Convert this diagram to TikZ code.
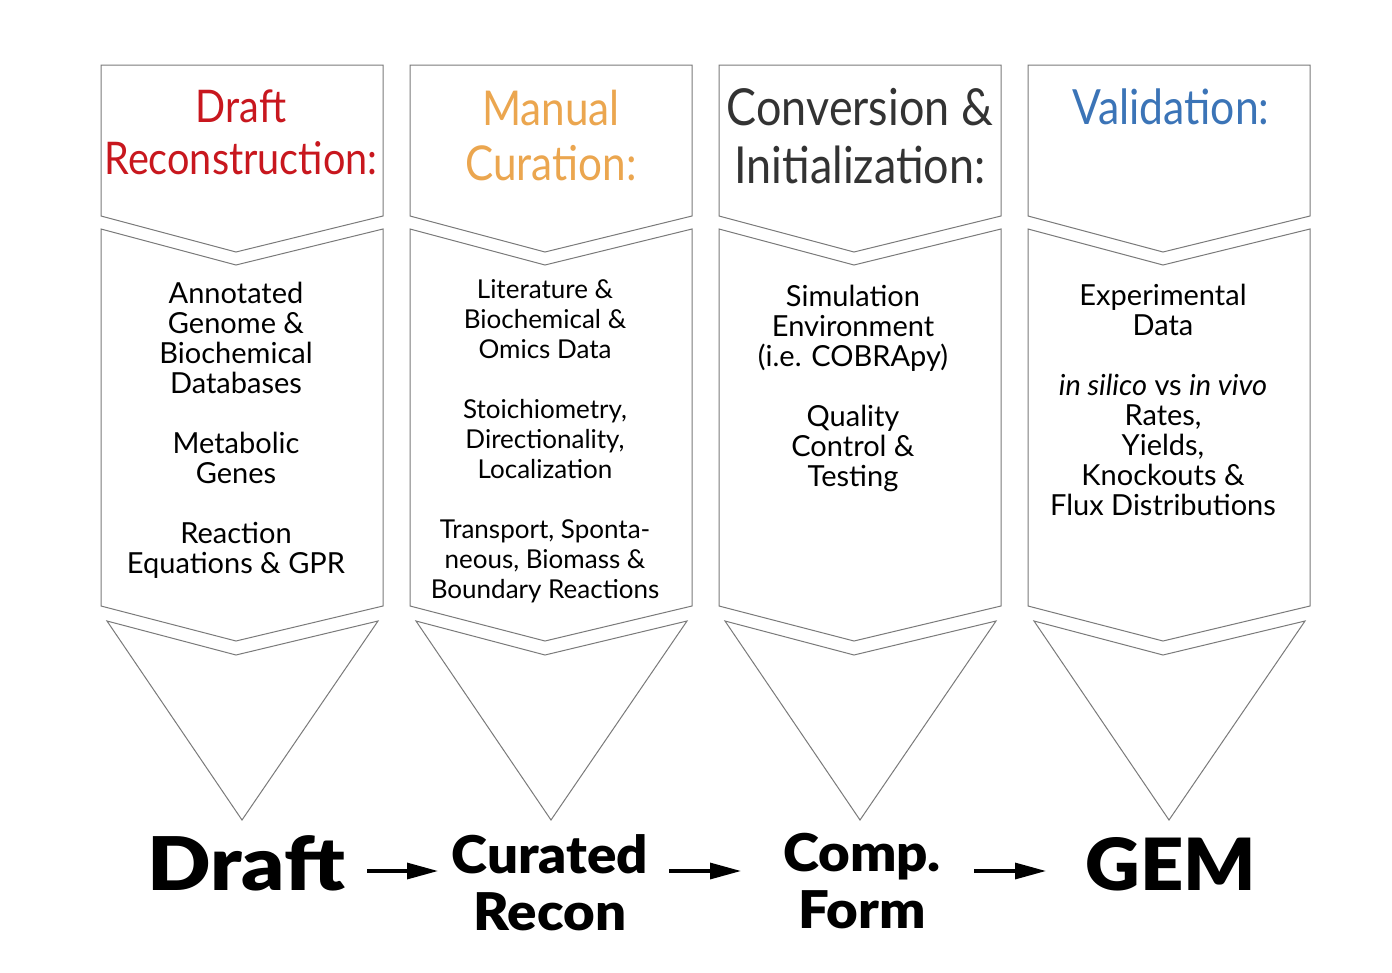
\documentclass[tikz,border=0pt]{standalone}
\usepackage{fontspec}
\setmainfont{Lato}
\newfontfamily\gill[FakeStretch=0.88]{Lato}
\newfontfamily\gillbody{Lato}
\IfFontExistsTF{Lato Black}{%
  \newfontfamily\heavyfam[FakeStretch=1.05]{Lato Black}%
  \newfontfamily\heavywide[FakeStretch=1.13]{Lato Black}}{%
  \newfontfamily\heavyfam[FakeStretch=1.05]{Lato Bold}%
  \newfontfamily\heavywide[FakeStretch=1.13]{Lato Bold}}
\usetikzlibrary{arrows.meta}
\definecolor{draftred}{HTML}{C8171E}
\definecolor{curorange}{HTML}{EBA64F}
\definecolor{convgray}{HTML}{333333}
\definecolor{valblue}{HTML}{3B74B7}
\definecolor{linegray}{HTML}{7A7A7A}
\tikzset{
  outline/.style={draw=linegray, line width=1pt, line join=miter},
  titletext/.style={anchor=base, align=center, inner sep=0pt, font=\gill\fontsize{46}{52}\selectfont},
  bodytext/.style={anchor=base, align=center, inner sep=0pt, font=\gillbody\fontsize{29}{30}\selectfont},
  smallbody/.style={anchor=base, align=center, inner sep=0pt, font=\gillbody\fontsize{26}{30}\selectfont},
  stagetext/.style={anchor=base, align=center, inner sep=0pt, font=\heavyfam\fontsize{52}{57}\selectfont},
  bigstage/.style={anchor=base, align=center, inner sep=0pt, font=\heavyfam\fontsize{74}{80}\selectfont},
  flow/.style={line width=3.2pt, -{Triangle[length=31pt,width=16pt]}}
}
\begin{document}
\begin{tikzpicture}[x=1pt,y=-1pt]
\fill[white] (0,0) rectangle (1392,972);
\useasboundingbox (0,0) rectangle (1392,972);
\foreach \k in {0,1,2,3}{
  \pgfmathsetmacro\L{101+309*\k}
  \pgfmathsetmacro\R{383+309*\k}
  \pgfmathsetmacro\C{242+309*\k}
  \pgfmathsetmacro\P{236+309*\k}
  \draw[outline] (\L,65) -- (\R,65) -- (\R,216) -- (\P,252) -- (\L,216) -- cycle;
  \draw[outline] (\L,229) -- (\P,265) -- (\R,229) -- (\R,606) -- (\P,641) -- (\L,606) -- cycle;
  \draw[outline] (\L+6,621) -- (\P,655) -- (\R-5,621) -- (\C,820) -- cycle;
}
% titles
\node[titletext, text=draftred, font=\gill\fontsize{45}{52}\selectfont] (t1) at (241,174) {Draft\\Reconstruction:};
\node[titletext, text=curorange, font=\gill\fontsize{48}{55}\selectfont] (t2) at (551,180) {Manual\\Curation:};
\node[titletext, text=convgray, font=\gill\fontsize{51}{58}\selectfont] (t3) at (860,183) {Conversion \&\\Initialization:};
\node[titletext, text=valblue, font=\gill\fontsize{48.5}{55}\selectfont] (t4) at (1171,124) {Validation:};
% bodies
\node[bodytext] (b1) at (236,573) {Annotated\\Genome \&\\Biochemical\\Databases\\[30pt]Metabolic\\Genes\\[30pt]Reaction\\Equations \& GPR};
\node[smallbody] (b2) at (545,598) {Literature \&\\Biochemical \&\\Omics Data\\[30pt]Stoichiometry,\\Directionality,\\Localization\\[30pt]Transport, Sponta-\\neous, Biomass \&\\Boundary Reactions};
\node[bodytext] (b3) at (853,486) {Simulation\\Environment\\(i.e. COBRApy)\\[30pt]Quality\\Control \&\\Testing};
\node[bodytext] (b4) at (1163,515) {Experimental\\Data\\[30pt]\textit{in silico} vs \textit{in vivo}\\Rates,\\Yields,\\Knockouts \&\\Flux Distributions};
% stages
\node[bigstage, font=\heavywide\fontsize{74}{80}\selectfont] (s1) at (246,890) {Draft};
\node[stagetext] (s2) at (550,930) {Curated\\Recon};
\node[stagetext] (s3) at (862,928) {Comp.\\Form};
\node[bigstage, font=\heavyfam\fontsize{72}{80}\selectfont] (s4) at (1171,890) {GEM};
\coordinate (a1s) at (367,871); \coordinate (a1e) at (438,871);
\coordinate (a2s) at (669,871); \coordinate (a2e) at (741,871);
\coordinate (a3s) at (974,871); \coordinate (a3e) at (1046,871);
\draw[flow] (a1s) -- (a1e);
\draw[flow] (a2s) -- (a2e);
\draw[flow] (a3s) -- (a3e);
\end{tikzpicture}
\end{document}
